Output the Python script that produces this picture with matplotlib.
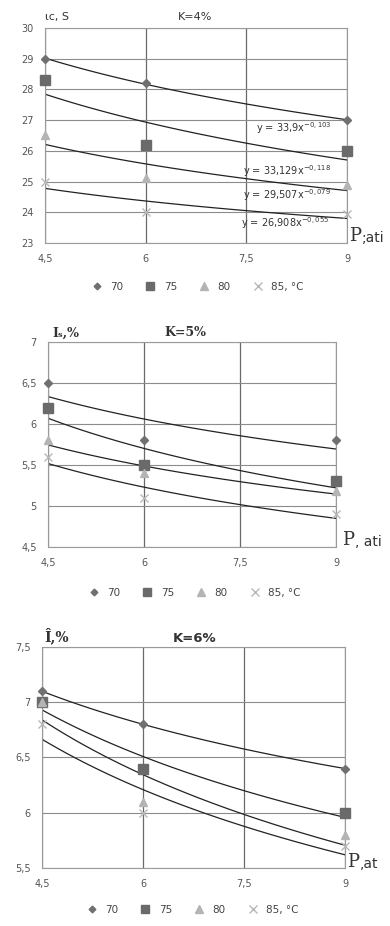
import numpy as np
import matplotlib
matplotlib.use("Agg")
import matplotlib.pyplot as plt
from matplotlib.lines import Line2D

# ---------------- data ----------------
pressure = [4.5, 6, 9]
x_ticks = [4.5, 6, 7.5, 9]
x_tick_labels = ["4,5", "6", "7,5", "9"]
temps = ["70", "75", "80", "85, °C"]

k4_70 = [29.0, 28.2, 27.0]
k4_75 = [28.3, 26.2, 26.0]
k4_80 = [26.5, 25.1, 24.9]
k4_85 = [25.0, 24.0, 23.95]
k4_yticks = [23, 24, 25, 26, 27, 28, 29, 30]
k4_eqs = [r"y = 33,9x$^{-0,103}$", r"y = 33,129x$^{-0,118}$",
          r"y = 29,507x$^{-0,079}$", r"y = 26,908x$^{-0,055}$"]

k5_70 = [6.5, 5.8, 5.8]
k5_75 = [6.2, 5.5, 5.3]
k5_80 = [5.8, 5.4, 5.18]
k5_85 = [5.6, 5.1, 4.9]
k5_yticks = [4.5, 5, 5.5, 6, 6.5, 7]

k6_70 = [7.1, 6.8, 6.4]
k6_75 = [7.0, 6.4, 6.0]
k6_80 = [7.0, 6.1, 5.8]
k6_85 = [6.8, 6.0, 5.7]
k6_yticks = [5.5, 6, 6.5, 7, 7.5]

# ---------------- style ----------------
W, H = 390, 926
fig = plt.figure(figsize=(W / 100, H / 100), dpi=100)
fig.patch.set_facecolor("white")

styles = [
    dict(marker="D", color="#707070", ms=4),
    dict(marker="s", color="#6a6a6a", ms=7),
    dict(marker="^", color="#b4b4b4", ms=6),
    dict(marker="x", color="#b8b8b8", ms=6, mew=1.0),
]


def fmt(v):
    s = ("%g" % v).replace(".", ",")
    return s


def axes_px(left, top, right, bottom):
    return fig.add_axes([left / W, 1 - bottom / H, (right - left) / W, (bottom - top) / H])


def panel(ax, series, yticks):
    for ys, st in zip(series, styles):
        ax.plot(pressure, ys, linestyle="none", zorder=3, clip_on=False, **st)
        b, a = np.polyfit(np.log(pressure), np.log(ys), 1)
        xx = np.linspace(pressure[0], pressure[-1], 80)
        ax.plot(xx, np.exp(a) * xx ** b, color="#222222", lw=0.9, zorder=2)
    ax.set_xlim(4.5, 9)
    ax.set_ylim(yticks[0], yticks[-1])
    ax.set_xticks(x_ticks)
    ax.set_xticklabels(x_tick_labels)
    ax.set_yticks(yticks)
    ax.set_yticklabels([fmt(v) for v in yticks])
    ax.tick_params(length=0, labelsize=7, labelcolor="#555555", pad=8)
    ax.grid(True, axis="y", color="#8c8c8c", lw=0.8)
    ax.grid(True, axis="x", color="#6a6a6a", lw=0.9)
    for sp in ax.spines.values():
        sp.set_color("#9a9a9a")
        sp.set_linewidth(0.8)
    ax.set_axisbelow(True)


def legend(cy, cx=195):
    handles = []
    for st in styles:
        handles.append(Line2D([], [], linestyle="none", marker=st["marker"],
                              color=st["color"], ms=st["ms"] * 0.85,
                              mew=st.get("mew", 1.0)))
    fig.legend(handles, temps, loc="center", bbox_to_anchor=(cx / W, 1 - cy / H),
               ncol=4, frameon=False, fontsize=7.5, handletextpad=0.3,
               columnspacing=1.6, labelcolor="#444444")


# ---------- panel 1 ----------
ax1 = axes_px(45, 28, 347, 243)
panel(ax1, [k4_70, k4_75, k4_80, k4_85], k4_yticks)
eq_pos = [(7.65, 26.75), (7.45, 25.35), (7.45, 24.55), (7.42, 23.65)]
for (ex, ey), t in zip(eq_pos, k4_eqs):
    ax1.text(ex, ey, t, fontsize=7, color="#333333", ha="left", va="center")
fig.text(45 / W, 1 - 17 / H, "ιc, S", fontsize=8, color="#333333", ha="left", va="center")
fig.text(195 / W, 1 - 17 / H, "K=4%", fontsize=8, color="#333333", ha="center", va="center")
fig.text(349 / W, 1 - 236 / H, "P", fontsize=13, family="DejaVu Serif", color="#333333",
         ha="left", va="center")
fig.text(362 / W, 1 - 238 / H, ";ati", fontsize=10, color="#333333", ha="left", va="center")
legend(287)

# ---------- panel 2 ----------
ax2 = axes_px(48, 342, 336, 547)
panel(ax2, [k5_70, k5_75, k5_80, k5_85], k5_yticks)
fig.text(52 / W, 1 - 333 / H, "Iₛ,%", fontsize=9, fontweight="bold", family="DejaVu Serif",
         color="#333333", ha="left", va="center")
fig.text(185 / W, 1 - 333 / H, "K=5%", fontsize=9, fontweight="bold", family="DejaVu Serif",
         color="#333333", ha="center", va="center")
fig.text(342 / W, 1 - 540 / H, "P", fontsize=13, family="DejaVu Serif", color="#333333",
         ha="left", va="center")
fig.text(355 / W, 1 - 542 / H, ", ati", fontsize=10, color="#333333", ha="left", va="center")
legend(593, 192)

# ---------- panel 3 ----------
ax3 = axes_px(42, 647, 345, 868)
panel(ax3, [k6_70, k6_75, k6_80, k6_85], k6_yticks)
fig.text(44 / W, 1 - 636 / H, "Î,%", fontsize=10, fontweight="bold", family="DejaVu Serif",
         color="#333333", ha="left", va="center")
fig.text(195 / W, 1 - 638 / H, "K=6%", fontsize=9.5, fontweight="bold",
         color="#333333", ha="center", va="center")
fig.text(347 / W, 1 - 862 / H, "P", fontsize=13, family="DejaVu Serif", color="#333333",
         ha="left", va="center")
fig.text(360 / W, 1 - 864 / H, ",at", fontsize=10, color="#333333", ha="left", va="center")
legend(910, 190)

fig.savefig("out.png", dpi=100, facecolor="white")
